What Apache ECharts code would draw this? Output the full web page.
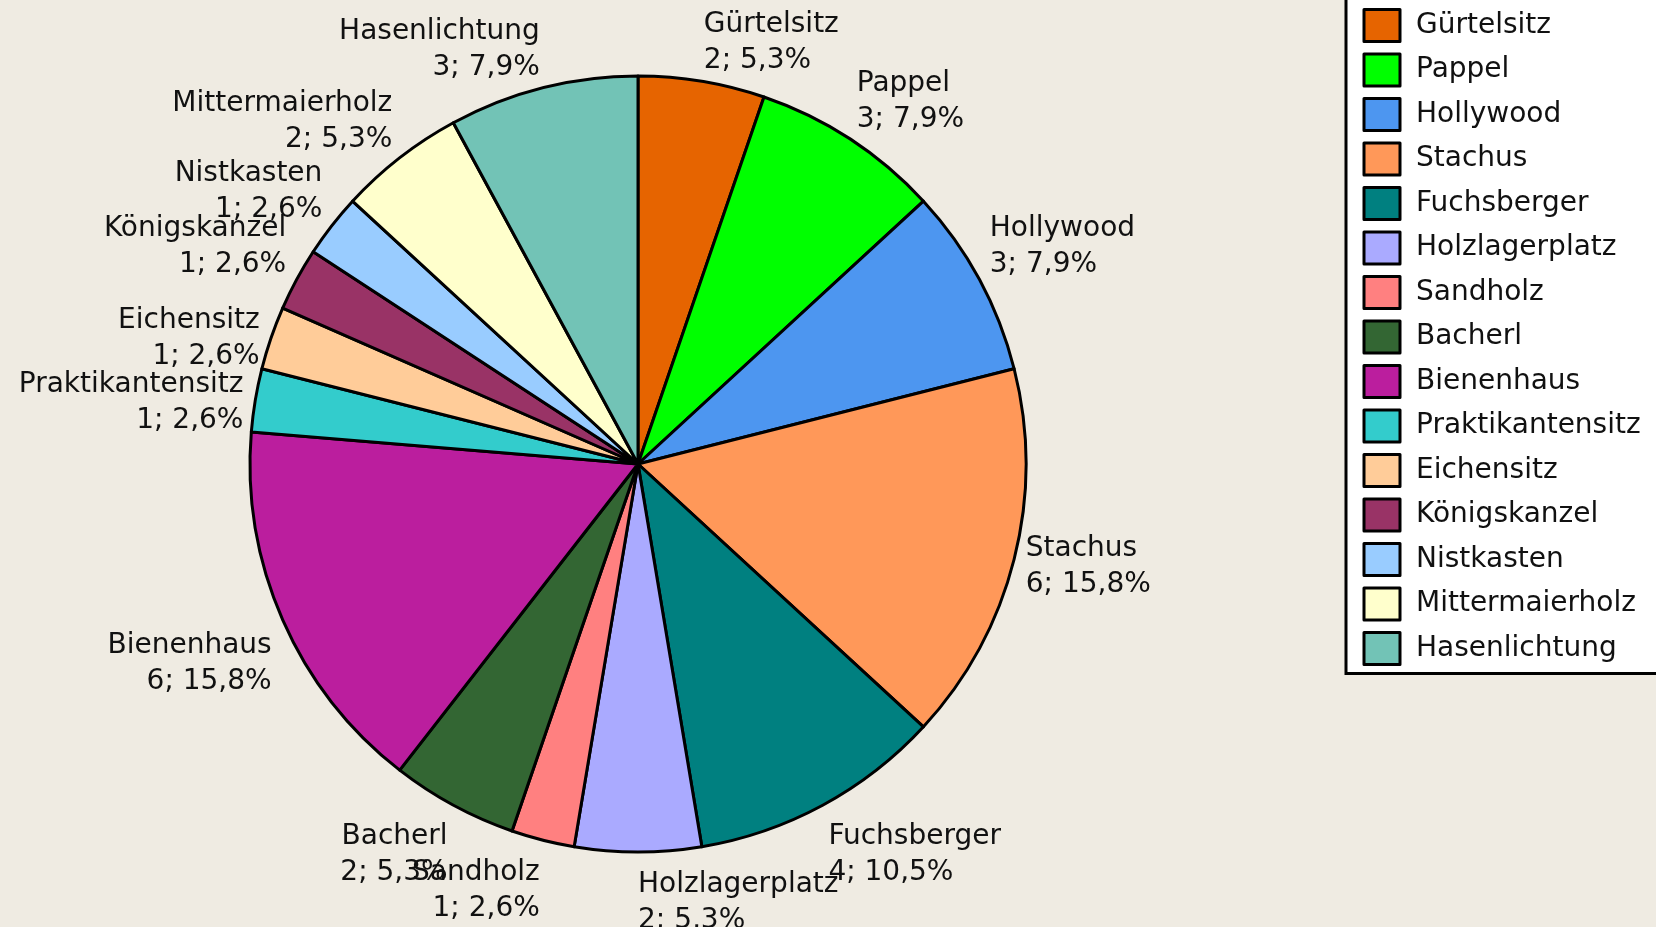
<!DOCTYPE html>
<html>
<head>
<meta charset="utf-8">
<script src="https://cdn.jsdelivr.net/npm/echarts@6/dist/echarts.min.js"></script>
<style>
html, body { margin: 0; padding: 0; background: #efebe2; }
#main { width: 1656px; height: 927px; }
</style>
</head>
<body>
<div id="main"></div>
<script>
// Daten: Ansitz und Anzahl
var names = ['Gürtelsitz', 'Pappel', 'Hollywood', 'Stachus', 'Fuchsberger', 'Holzlagerplatz', 'Sandholz',
    'Bacherl', 'Bienenhaus', 'Praktikantensitz', 'Eichensitz', 'Königskanzel', 'Nistkasten',
    'Mittermaierholz', 'Hasenlichtung'];
var values = [2, 3, 3, 6, 4, 2, 1, 2, 6, 1, 1, 1, 1, 2, 3];
var colors = ['#e66400', '#00ff00', '#4d96f0', '#ff9859', '#008080', '#aaaaff', '#ff8080',
    '#336633', '#bb1e9e', '#33cccc', '#ffcc99', '#993366', '#99ccff', '#ffffcc', '#72c3b6'];

var FONT = 'DejaVu Sans';
var CX = 638, CY = 464, R = 388, LABEL_R = 400;

var total = values.reduce(function (a, b) { return a + b; }, 0);

var chart = echarts.init(document.getElementById('main'));

var option = {
    backgroundColor: '#efebe2',
    animation: false,
    color: colors,
    legend: {
        orient: 'vertical',
        left: 1346,
        top: -10,
        data: names,
        icon: 'rect',
        itemWidth: 36,
        itemHeight: 32,
        itemGap: 9.5,
        padding: [18, 40, 7.5, 16.5],
        backgroundColor: '#ffffff',
        borderColor: '#000000',
        borderWidth: 3,
        itemStyle: { borderColor: '#000000', borderWidth: 3 },
        textStyle: { fontFamily: FONT, fontSize: 28, lineHeight: 30, color: '#111', padding: [0, 0, 0, 11] }
    },
    series: [{
        name: 'Ansitze',
        type: 'pie',
        center: [CX, CY],
        radius: R,
        startAngle: 90,
        clockwise: true,
        avoidLabelOverlap: false,
        data: names.map(function (n, i) { return { name: n, value: values[i] }; }),
        itemStyle: { borderColor: '#000000', borderWidth: 3 },
        label: {
            show: true,
            position: 'outside',
            fontFamily: FONT,
            fontSize: 28,
            lineHeight: 36,
            color: '#111',
            formatter: function (p) {
                var pct = (p.value / total * 100).toFixed(1).replace('.', ',');
                return p.name + '\n' + p.value + '; ' + pct + '%';
            }
        },
        labelLine: { show: false },
        labelLayout: function (p) {
            var i = p.dataIndex;
            var cum = 0;
            for (var k = 0; k < i; k++) cum += values[k];
            var a = (cum + values[i] / 2) / total * Math.PI * 2;
            var dx = Math.sin(a), dy = -Math.cos(a);
            var va = Math.abs(dy) < 0.4 ? 'middle' : (dy < 0 ? 'bottom' : 'top');
            var shift = va === 'bottom' ? 9 : (va === 'middle' ? 5 : 3);
            return {
                x: CX + dx * LABEL_R,
                y: CY + dy * LABEL_R + shift,
                align: dx >= -1e-9 ? 'left' : 'right',
                verticalAlign: va
            };
        },
        emphasis: { disabled: true }
    }]
};

chart.setOption(option);
</script>
</body>
</html>
